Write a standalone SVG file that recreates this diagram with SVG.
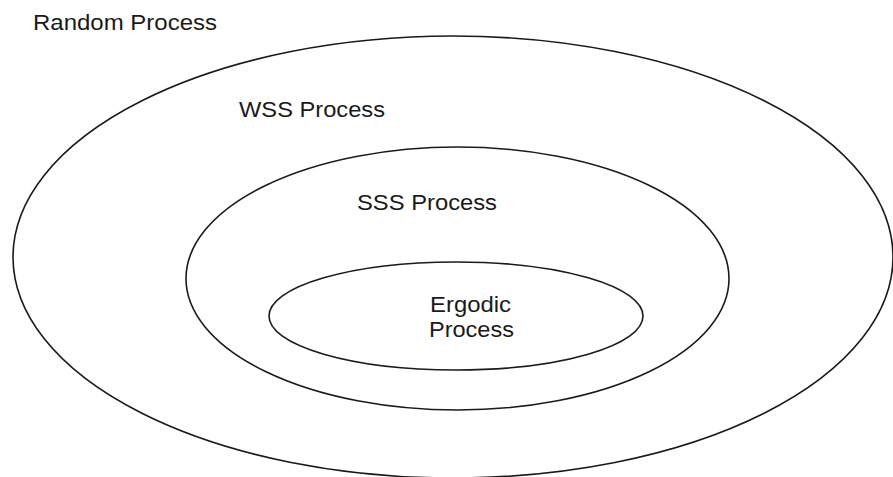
<svg xmlns="http://www.w3.org/2000/svg" width="893" height="477" viewBox="0 0 893 477">
<style>
.e{fill:none;stroke:#1a1a1a;stroke-width:1.6}
.t{font-family:"Liberation Sans",Arial,sans-serif;font-size:22px;fill:#1a1a1a}
</style>
<rect width="893" height="477" fill="#fff"/>
<g id="random">
<ellipse class="e" cx="453" cy="257" rx="440" ry="221"/>
<text class="t" x="33" y="30" textLength="184" lengthAdjust="spacingAndGlyphs">Random Process</text>
</g>
<g id="wss">
<ellipse class="e" cx="457.5" cy="278.5" rx="271.5" ry="131.5"/>
<text class="t" x="239" y="117" textLength="146" lengthAdjust="spacingAndGlyphs">WSS Process</text>
</g>
<g id="sss">
<text class="t" x="357" y="210" textLength="140" lengthAdjust="spacingAndGlyphs">SSS Process</text>
</g>
<g id="ergodic">
<ellipse class="e" cx="456" cy="316" rx="187" ry="54"/>
<text class="t" x="430" y="311.5" textLength="81" lengthAdjust="spacingAndGlyphs">Ergodic</text>
<text class="t" x="429" y="337" textLength="85" lengthAdjust="spacingAndGlyphs">Process</text>
</g>
<g id="connectors"/>
</svg>
